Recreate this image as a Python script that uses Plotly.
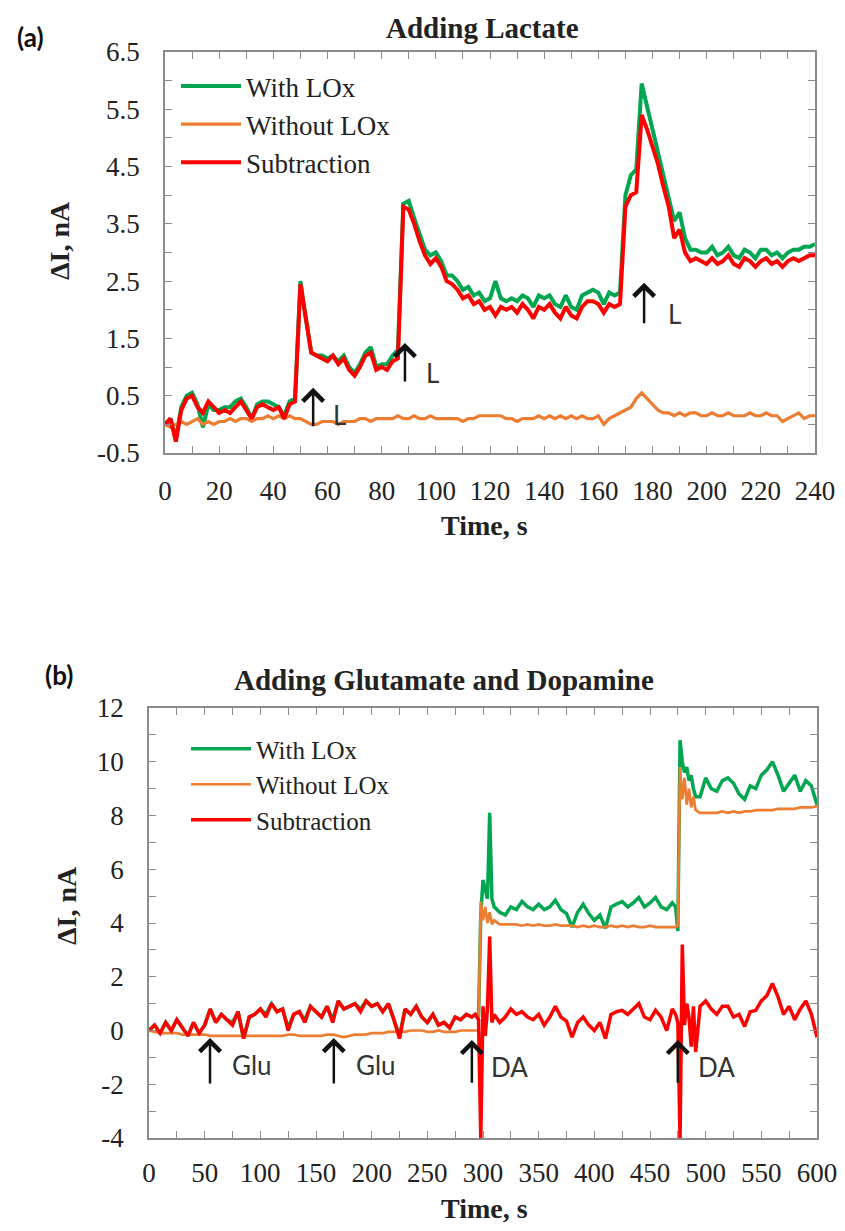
import plotly.graph_objects as go

# ---------------- Panel (a): Adding Lactate ----------------
t_a = list(range(0, 241, 2))

with_a = [
    0.00, 0.10, -0.25, 0.30, 0.50, 0.55, 0.35, -0.05, 0.35, 0.25,
    0.25, 0.30, 0.30, 0.40, 0.45, 0.30, 0.10, 0.35, 0.40, 0.40,
    0.35, 0.30, 0.15, 0.40, 0.45, 2.50, 1.85, 1.25, 1.20, 1.20,
    1.15, 1.20, 1.10, 1.20, 1.00, 0.90, 1.05, 1.25, 1.35, 1.00,
    1.05, 1.05, 1.20, 1.30, 3.85, 3.90, 3.60, 3.30, 3.05, 2.95,
    3.00, 2.85, 2.60, 2.60, 2.50, 2.35, 2.40, 2.25, 2.30, 2.15,
    2.20, 2.50, 2.20, 2.15, 2.20, 2.15, 2.25, 2.20, 2.05, 2.25,
    2.20, 2.25, 2.10, 2.05, 2.25, 2.05, 2.00, 2.25, 2.30, 2.35,
    2.30, 2.10, 2.30, 2.25, 2.30, 4.00, 4.35, 4.45, 5.95, 5.55,
    5.20, 4.80, 4.40, 4.00, 3.55, 3.70, 3.25, 3.05, 3.05, 3.00,
    3.00, 3.10, 2.95, 3.00, 3.10, 2.95, 2.90, 3.05, 3.00, 2.90,
    3.05, 3.05, 2.95, 3.00, 2.90, 3.00, 3.05, 3.05, 3.10, 3.10,
    3.15,
]
without_a = [
    0.00, -0.05, 0.00, 0.05, 0.00, 0.05, 0.10, 0.00, 0.05, 0.00,
    0.05, 0.05, 0.10, 0.05, 0.10, 0.10, 0.05, 0.10, 0.10, 0.15,
    0.10, 0.15, 0.10, 0.15, 0.10, 0.10, 0.05, 0.00, 0.00, 0.05,
    0.05, 0.05, 0.00, 0.05, 0.05, 0.05, 0.10, 0.10, 0.05, 0.10,
    0.10, 0.10, 0.10, 0.15, 0.10, 0.10, 0.15, 0.10, 0.10, 0.15,
    0.10, 0.10, 0.10, 0.10, 0.10, 0.05, 0.10, 0.10, 0.15, 0.15,
    0.15, 0.15, 0.15, 0.10, 0.10, 0.05, 0.10, 0.10, 0.10, 0.15,
    0.10, 0.15, 0.10, 0.15, 0.10, 0.15, 0.10, 0.15, 0.10, 0.10,
    0.15, 0.00, 0.10, 0.15, 0.20, 0.25, 0.30, 0.45, 0.55, 0.45,
    0.35, 0.25, 0.20, 0.20, 0.15, 0.20, 0.15, 0.20, 0.20, 0.15,
    0.15, 0.20, 0.15, 0.15, 0.20, 0.15, 0.15, 0.15, 0.20, 0.15,
    0.15, 0.20, 0.15, 0.15, 0.05, 0.10, 0.15, 0.20, 0.10, 0.15,
    0.15,
]
sub_a = [
    0.00, 0.10, -0.30, 0.25, 0.45, 0.50, 0.30, 0.20, 0.40, 0.30,
    0.20, 0.25, 0.20, 0.30, 0.40, 0.25, 0.10, 0.30, 0.35, 0.30,
    0.25, 0.30, 0.10, 0.35, 0.40, 2.45, 1.80, 1.25, 1.20, 1.15,
    1.10, 1.20, 1.05, 1.15, 0.95, 0.85, 1.00, 1.20, 1.25, 0.95,
    1.00, 0.95, 1.10, 1.15, 3.80, 3.75, 3.50, 3.20, 2.95, 2.80,
    2.90, 2.75, 2.50, 2.45, 2.35, 2.20, 2.25, 2.10, 2.15, 2.00,
    2.05, 1.90, 2.05, 2.00, 2.05, 1.95, 2.10, 2.00, 1.85, 2.05,
    2.00, 2.10, 1.95, 1.85, 2.05, 1.90, 1.85, 2.05, 2.15, 2.15,
    2.10, 1.95, 2.10, 2.05, 2.10, 3.80, 4.00, 4.05, 5.40, 5.15,
    4.85, 4.55, 4.15, 3.80, 3.25, 3.40, 3.00, 2.85, 2.90, 2.85,
    2.80, 2.90, 2.80, 2.85, 2.95, 2.80, 2.75, 2.90, 2.85, 2.75,
    2.85, 2.90, 2.80, 2.85, 2.75, 2.85, 2.90, 2.85, 2.90, 2.95,
    2.95,
]
yticks_a = [-0.5, 0.5, 1.5, 2.5, 3.5, 4.5, 5.5, 6.5]
yticklabels_a = ["-0.5", "0.5", "1.5", "2.5", "3.5", "4.5", "5.5", "6.5"]

# arrows (a): x position, tip value, tail value; labels
arrows_a_x = [54.7, 88.6, 176.9]
arrows_a_tip = [0.64, 1.42, 2.47]
arrows_a_tail = [-0.06, 0.72, 1.74]
labels_a = ["L", "L", "L"]
labels_a_x = [64.6, 98.6, 188.0]
labels_a_y = [0.17, 0.90, 1.93]

# ---------------- Panel (b): Adding Glutamate and Dopamine ----------------
t_b = (list(range(0, 291, 5)) + [293, 296, 298, 300, 302, 304, 306, 308, 310]
       + list(range(315, 471, 5)) + [473, 475, 477, 479, 481, 483, 485, 487, 489, 491]
       + list(range(495, 601, 5)))

with_b = [
    0.0, 0.2, -0.1, 0.3, 0.0, 0.4, 0.1, -0.2, 0.3, -0.1,
    0.2, 0.8, 0.3, 0.6, 0.4, 0.3, 0.7, -0.3, 0.5, 0.6,
    0.8, 0.6, 1.0, 0.7, 0.8, 0.1, 0.6, 0.7, 0.4, 0.9,
    0.7, 0.5, 0.9, 0.4, 1.1, 0.8, 0.9, 1.0, 0.8, 1.1,
    0.9, 1.0, 0.7, 1.0, 0.4, -0.2, 0.8, 0.6, 0.9, 0.5,
    0.3, 0.6, 0.2, 0.3, 0.1, 0.5, 0.4, 0.6, 0.5,
    0.6, 0.5, 4.3, 5.6, 5.2, 4.9, 8.1, 4.9, 4.6,
    4.4, 4.3, 4.6, 4.5, 4.8, 4.6, 4.5, 4.7, 4.5, 4.6,
    4.85, 4.5, 4.35, 3.85, 4.4, 4.7, 4.35, 4.1, 4.3, 3.8,
    4.6, 4.7, 4.8, 4.6, 4.75, 4.95, 4.6, 4.75, 4.95, 4.6,
    4.5, 4.75,
    4.6, 3.7, 10.8, 10.0, 9.6, 9.8, 9.3, 9.5, 9.0, 8.7,
    8.7, 9.4, 9.0, 8.9, 9.3, 9.4, 9.2, 8.8, 8.6, 9.1,
    9.0, 9.5, 9.7, 10.0, 9.5, 8.9, 9.2, 9.5, 8.9, 9.3,
    9.1, 8.4,
]
without_b = [
    0.0, -0.05, -0.1, -0.1, -0.1, -0.1, -0.15, -0.15, -0.15, -0.15,
    -0.15, -0.2, -0.2, -0.2, -0.2, -0.2, -0.2, -0.2, -0.2, -0.2,
    -0.2, -0.2, -0.2, -0.2, -0.2, -0.15, -0.15, -0.2, -0.2, -0.2,
    -0.2, -0.2, -0.15, -0.15, -0.2, -0.25, -0.2, -0.15, -0.15, -0.15,
    -0.1, -0.1, -0.1, -0.05, -0.05, -0.05, -0.05, 0.0, 0.0, 0.0,
    -0.05, -0.05, 0.0, -0.05, -0.05, -0.05, 0.0, 0.0, 0.0,
    0.0, 0.0, 4.8, 4.1, 4.6, 4.0, 4.4, 3.95, 4.1,
    3.95, 3.95, 3.95, 3.95, 3.9, 3.95, 3.9, 3.95, 3.9, 3.9,
    3.95, 3.9, 3.9, 3.9, 3.85, 3.9, 3.85, 3.9, 3.85, 3.85,
    3.9, 3.85, 3.9, 3.85, 3.9, 3.85, 3.85, 3.9, 3.85, 3.85,
    3.85, 3.85,
    3.85, 3.9, 9.8, 8.6, 9.4, 8.4, 9.0, 8.3, 8.7, 8.2,
    8.1, 8.1, 8.1, 8.1, 8.15, 8.1, 8.15, 8.1, 8.15, 8.15,
    8.2, 8.2, 8.2, 8.2, 8.25, 8.25, 8.25, 8.25, 8.3, 8.3,
    8.3, 8.35,
]
sub_b = [
    0.0, 0.2, -0.1, 0.3, 0.0, 0.4, 0.1, -0.2, 0.3, -0.1,
    0.2, 0.8, 0.3, 0.6, 0.4, 0.2, 0.7, -0.3, 0.5, 0.6,
    0.8, 0.5, 1.0, 0.7, 0.8, 0.0, 0.6, 0.7, 0.3, 0.9,
    0.7, 0.5, 0.9, 0.3, 1.1, 0.8, 0.9, 1.0, 0.7, 1.1,
    0.9, 1.0, 0.7, 1.0, 0.4, -0.3, 0.8, 0.6, 0.9, 0.5,
    0.3, 0.6, 0.2, 0.3, 0.1, 0.5, 0.4, 0.6, 0.5,
    0.6, 0.4, -4.0, 0.9, -0.2, 0.8, 3.5, 0.3, 0.6,
    0.3, 0.5, 0.8, 0.6, 0.7, 0.5, 0.4, 0.6, 0.2, 0.5,
    0.9, 0.5, 0.35, -0.25, 0.3, 0.5, 0.2, 0.0, 0.3, -0.3,
    0.6, 0.7, 0.75, 0.6, 0.8, 1.0, 0.5, 0.4, 0.75, 0.5,
    0.0, 0.8,
    0.6, 0.3, -4.0, 3.2, 0.2, 1.0, 0.5, -0.6, 0.9, -0.8,
    0.9, 1.1, 0.8, 0.6, 0.9, 0.9, 0.5, 0.6, 0.15, 0.7,
    0.75, 1.1, 1.3, 1.75, 1.25, 0.6, 0.9, 0.4, 0.8, 1.1,
    0.6, -0.25,
]
yticks_b = [-4, -2, 0, 2, 4, 6, 8, 10, 12]
yticklabels_b = ["-4", "-2", "0", "2", "4", "6", "8", "10", "12"]

arrows_b_x = [54.8, 166.0, 290.0, 475.0]
arrows_b_tip = [-0.28, -0.28, -0.35, -0.35]
arrows_b_tail = [-2.03, -2.03, -2.0, -2.0]
labels_b = ["Glu", "Glu", "DA", "DA"]
labels_b_x = [92.5, 204.0, 324.0, 510.0]
labels_b_y = [-1.3, -1.3, -1.36, -1.36]

assert len(with_a) == len(t_a) == len(without_a) == len(sub_a)
assert len(with_b) == len(t_b) == len(without_b) == len(sub_b)

# ---------------- styling ----------------
W, H = 845, 1231
GREEN, ORANGE, RED = "#00A650", "#ED7D31", "#FF0000"
SERIF = "Liberation Serif"
SANS = "Lato"
AXC = "#8c8c8c"


def px(x):
    return x / W


def py(y):
    return 1 - y / H


fig = go.Figure()
series = [("With LOx", GREEN, 4.0), ("Without LOx", ORANGE, 3.2), ("Subtraction", RED, 4.0)]
for (name, col, lw), ys in zip(series, [with_a, without_a, sub_a]):
    fig.add_trace(go.Scatter(x=t_a, y=ys, mode="lines", name=name,
                             line=dict(color=col, width=lw), xaxis="x", yaxis="y",
                             legend="legend"))
for (name, col, lw), ys in zip(series, [with_b, without_b, sub_b]):
    fig.add_trace(go.Scatter(x=t_b, y=ys, mode="lines", name=name,
                             line=dict(color=col, width=lw - 0.5), xaxis="x2", yaxis="y2",
                             legend="legend2"))

tickfont = dict(family=SERIF, size=27, color="#222")


def axis(rng, domain, anchor, dtick=None, minor=None, tick0=0, tickvals=None,
         ticktext=None, standoff=18):
    d = dict(range=rng, domain=domain, anchor=anchor, automargin=False,
             showline=True, linecolor=AXC, linewidth=1.5, mirror="ticks",
             ticks="inside", ticklen=7, tickwidth=1, tickcolor=AXC,
             showgrid=False, zeroline=False, tickfont=tickfont,
             ticklabelstandoff=standoff,
             minor=dict(ticks="inside", ticklen=7, tickwidth=1, tickcolor=AXC,
                        dtick=minor, tick0=tick0, showgrid=False))
    if tickvals is not None:
        d["tickmode"] = "array"
        d["tickvals"] = tickvals
        d["ticktext"] = ticktext
    else:
        d["dtick"] = dtick
        d["tick0"] = tick0
    return d


fig.update_layout(
    template="none",
    width=W, height=H, autosize=False,
    margin=dict(l=0, r=0, t=0, b=0, pad=0, autoexpand=False),
    paper_bgcolor="white", plot_bgcolor="white",
    xaxis=axis([0, 240], [px(165), px(815)], "y", dtick=20, minor=10, standoff=13),
    yaxis=axis([-0.5, 6.5], [py(453), py(52)], "x", minor=0.5, tick0=-0.5,
               tickvals=yticks_a, ticktext=yticklabels_a),
    xaxis2=axis([0, 600], [px(149), px(817)], "y2", dtick=50, minor=25, standoff=10),
    yaxis2=axis([-4, 12], [py(1138), py(708)], "x2", minor=1, tick0=0,
                tickvals=yticks_b, ticktext=yticklabels_b),
    legend=dict(x=px(176), y=py(62), xanchor="left", yanchor="top",
                bgcolor="rgba(0,0,0,0)", itemwidth=60, borderwidth=0,
                font=dict(family=SERIF, size=27, color="#222")),
    legend2=dict(x=px(186), y=py(726), xanchor="left", yanchor="top",
                 bgcolor="rgba(0,0,0,0)", itemwidth=60, borderwidth=0,
                 font=dict(family=SERIF, size=25, color="#222")),
    showlegend=True,
)

ann = []
# titles and panel labels
ann.append(dict(text="<b>Adding Lactate</b>", x=px(482), y=py(28), xref="paper", yref="paper",
                xanchor="center", yanchor="middle",
                showarrow=False, font=dict(family=SERIF, size=29, color="#222")))
ann.append(dict(text="<b>Adding Glutamate and Dopamine</b>", x=px(444), y=py(680), xref="paper",
                yref="paper", xanchor="center", yanchor="middle",
                showarrow=False, font=dict(family=SERIF, size=29, color="#222")))
ann.append(dict(text="<b>(a)</b>", x=px(30), y=py(37), xref="paper", yref="paper",
                xanchor="center", yanchor="middle",
                showarrow=False, font=dict(family=SANS, size=26, color="#111")))
ann.append(dict(text="<b>(b)</b>", x=px(59), y=py(675), xref="paper", yref="paper",
                xanchor="center", yanchor="middle",
                showarrow=False, font=dict(family=SANS, size=26, color="#111")))
# axis titles
for xx, yy in [(60, 241), (66, 906)]:
    ann.append(dict(text="<b>ΔI, nA</b>", x=px(xx), y=py(yy), xref="paper", yref="paper",
                    xanchor="center", yanchor="middle",
                    textangle=-90, showarrow=False, font=dict(family=SERIF, size=28, color="#222")))
for xx, yy in [(484, 525), (484, 1208)]:
    ann.append(dict(text="<b>Time, s</b>", x=px(xx), y=py(yy), xref="paper", yref="paper",
                    xanchor="center", yanchor="middle",
                    showarrow=False, font=dict(family=SERIF, size=28, color="#222")))

# arrows and labels
for xa, tip, tail in zip(arrows_a_x, arrows_a_tip, arrows_a_tail):
    ann.append(dict(x=xa, y=tip, ax=xa, ay=tail, xref="x", yref="y", axref="x", ayref="y",
                    text="", showarrow=True, arrowhead=4, arrowsize=1.6, arrowwidth=2.5,
                    arrowcolor="#111", standoff=0, startstandoff=0))
for lab, lx, ly in zip(labels_a, labels_a_x, labels_a_y):
    ann.append(dict(x=lx, y=ly, xref="x", yref="y", text=lab, showarrow=False,
                    xanchor="center", yanchor="middle",
                    font=dict(family=SANS, size=26, color="#333")))
for xa, tip, tail in zip(arrows_b_x, arrows_b_tip, arrows_b_tail):
    ann.append(dict(x=xa, y=tip, ax=xa, ay=tail, xref="x2", yref="y2", axref="x2", ayref="y2",
                    text="", showarrow=True, arrowhead=4, arrowsize=1.6, arrowwidth=2.5,
                    arrowcolor="#111", standoff=0, startstandoff=0))
for lab, lx, ly in zip(labels_b, labels_b_x, labels_b_y):
    ann.append(dict(x=lx, y=ly, xref="x2", yref="y2", text=lab, showarrow=False,
                    xanchor="center", yanchor="middle",
                    font=dict(family=SANS, size=26, color="#333")))

fig.update_layout(annotations=ann)
fig.write_html("out.html")
